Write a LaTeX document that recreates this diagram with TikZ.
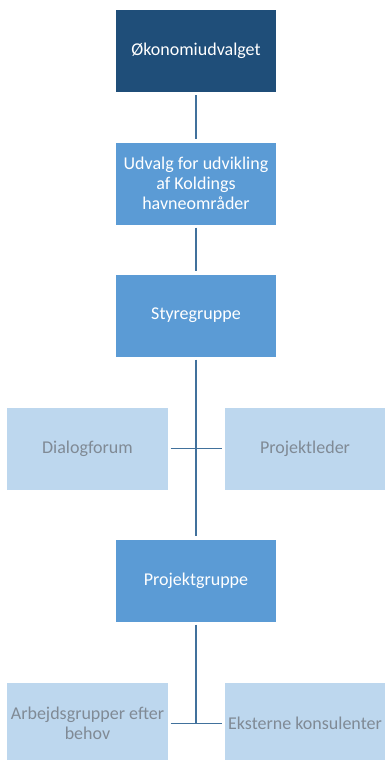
\documentclass[tikz,border=0pt]{standalone}
\usepackage{fontspec}
\setmainfont{Carlito}
\definecolor{navy}{HTML}{1F4E79}
\definecolor{midblue}{HTML}{5B9BD5}
\definecolor{paleblue}{HTML}{BDD7EE}
\definecolor{linkblue}{HTML}{41719C}
\definecolor{greytext}{HTML}{808A95}
\tikzset{
	box/.style={rectangle,minimum width=160bp,minimum height=82bp,inner sep=1bp,align=center,font=\fontsize{18bp}{20bp}\selectfont},
	topbox/.style={box,fill=navy,text=white},
	midbox/.style={box,fill=midblue,text=white},
	sidebox/.style={box,fill=paleblue,text=greytext},
	conn/.style={draw=linkblue,line width=1.5bp}
}

\begin{document}
\begin{tikzpicture}[x=1bp,y=-1bp]
	\useasboundingbox (0,0) rectangle (384,760);
	\node[topbox] (oko) at (196,51) {Økonomiudvalget};
	\node[midbox] (udvalg) at (196,183.5) {Udvalg for udvikling\\af Koldings\\havneområder};
	\node[midbox] (styre) at (196,315.5) {Styregruppe};
	\node[sidebox] (dialog) at (87.5,448.5) {Dialogforum};
	\node[sidebox] (leder) at (305,448.5) {Projektleder};
	\node[midbox] (projgr) at (196,580.5) {Projektgruppe};
	\node[sidebox] (arbejd) at (87.5,723.5) {Arbejdsgrupper efter\\behov};
	\node[sidebox] (ekstern) at (305,723.5) {Eksterne konsulenter};
	\draw[conn,shorten <=3bp,shorten >=3bp] (oko) -- (udvalg);
	\draw[conn,shorten <=3bp,shorten >=3bp] (udvalg) -- (styre);
	\draw[conn,shorten <=3bp,shorten >=3bp] (styre) -- (projgr);
	\draw[conn,shorten <=3bp,shorten >=3bp] (dialog) -- (leder);
	\draw[conn,shorten <=3bp] (projgr) -- (projgr |- arbejd);
	\draw[conn,shorten <=3bp,shorten >=3bp] (arbejd) -- (ekstern);
\end{tikzpicture}
\end{document}
